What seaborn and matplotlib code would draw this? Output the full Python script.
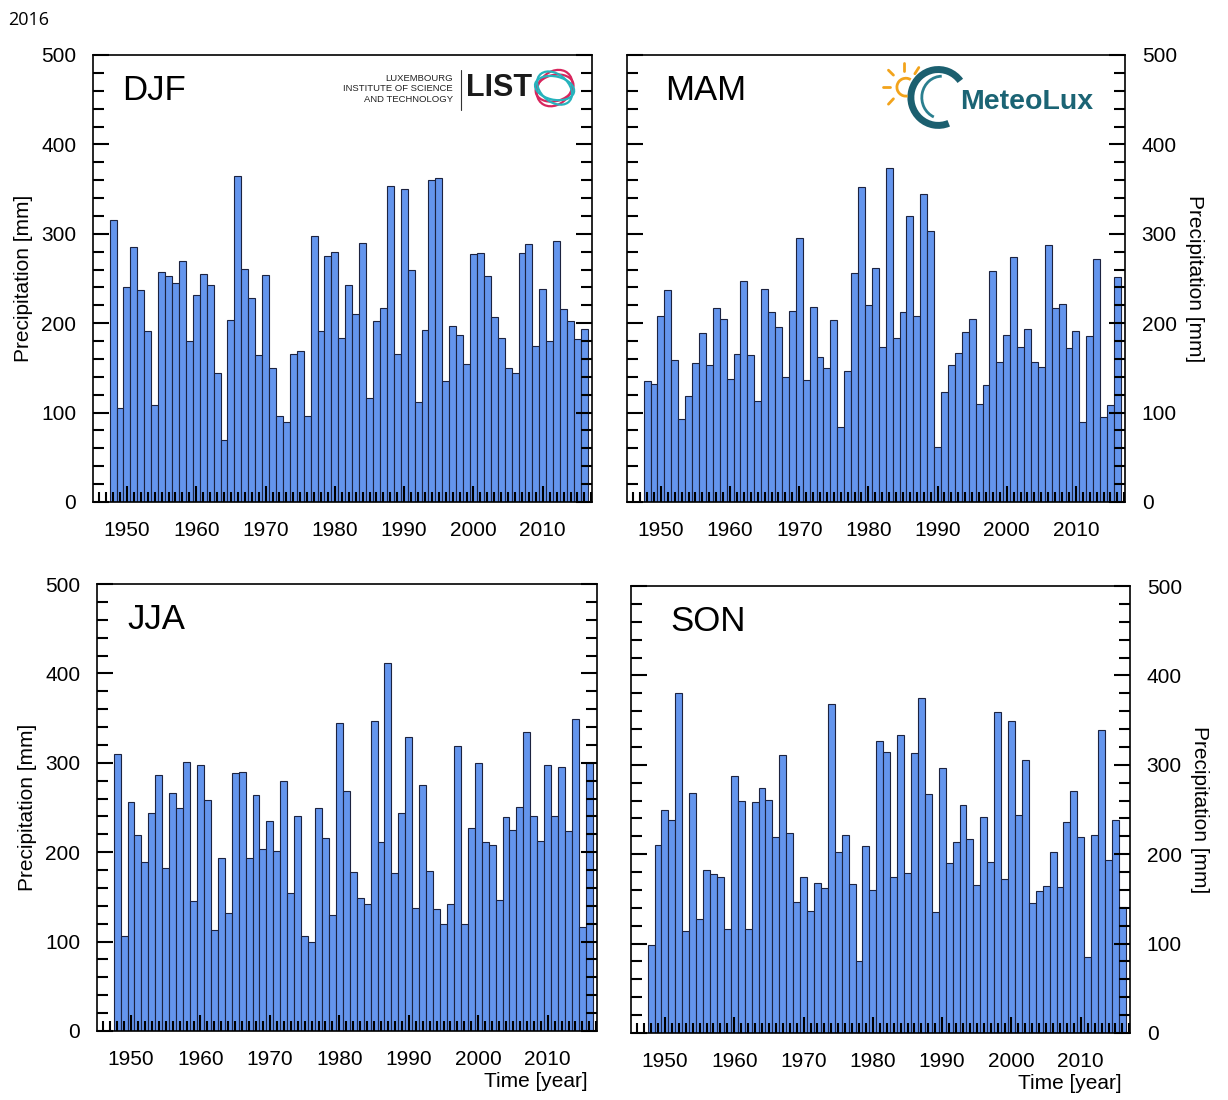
import matplotlib
matplotlib.use("Agg")
import matplotlib.pyplot as plt
from matplotlib.ticker import MultipleLocator
from matplotlib.patches import Ellipse, Arc
import seaborn as sns

years = list(range(1948, 2017))

djf = [315, 105, 240, 285, 237, 191, 109, 257, 253, 245, 270, 180, 232, 255, 243,
       144, 69, 204, 365, 261, 228, 164, 254, 150, 96, 90, 165, 169, 96, 297,
       191, 275, 280, 184, 243, 210, 290, 116, 203, 217, 354, 165, 350, 260, 112,
       192, 360, 362, 135, 197, 187, 154, 277, 278, 253, 207, 184, 150, 144, 279,
       289, 174, 238, 180, 292, 216, 202, 182, 193]

mam = [135, 132, 208, 237, 159, 93, 119, 156, 189, 153, 217, 205, 138, 166, 247,
       164, 113, 238, 212, 196, 140, 214, 295, 137, 218, 162, 150, 204, 84, 146,
       256, 352, 220, 262, 173, 374, 183, 213, 320, 208, 345, 303, 62, 123, 153,
       167, 190, 205, 110, 131, 258, 157, 187, 274, 173, 194, 157, 151, 288, 217,
       222, 172, 191, 89, 186, 272, 95, 109, 252]

jja = [310, 106, 256, 219, 189, 244, 286, 182, 266, 250, 301, 145, 298, 258, 113,
       193, 132, 289, 290, 194, 264, 204, 235, 201, 280, 154, 241, 106, 99, 249,
       216, 130, 345, 269, 178, 149, 142, 347, 211, 412, 177, 244, 329, 138, 275,
       179, 136, 120, 142, 319, 120, 227, 300, 211, 208, 146, 239, 225, 251, 335,
       240, 212, 297, 241, 295, 224, 349, 116, 300]

son = [98, 210, 250, 238, 380, 114, 268, 127, 182, 178, 175, 116, 288, 259, 116,
       258, 274, 261, 219, 311, 224, 146, 175, 137, 168, 162, 368, 202, 222, 167,
       81, 209, 160, 327, 314, 174, 333, 179, 313, 375, 267, 135, 296, 190, 214,
       255, 217, 165, 242, 191, 359, 172, 349, 244, 305, 145, 159, 164, 203, 163,
       236, 271, 219, 85, 221, 339, 194, 238, 141]

seasons = ["DJF", "MAM", "JJA", "SON"]
values = [djf, mam, jja, son]

sns.set_style("ticks")
plt.rcParams['font.family'] = ['Liberation Sans', 'DejaVu Sans']
plt.rcParams['text.color'] = 'black'
plt.rcParams['axes.labelcolor'] = 'black'

fig = plt.figure(figsize=(12.28, 11), dpi=100)

W, H = 1228, 1100
boxes = [(93, 502, 499), (627, 502, 498), (97, 1031, 500), (631, 1033, 499)]
label_x = [0.058, 0.076, 0.06, 0.078]
xlabel_end = [None, None, 0.982, 0.984]

axes = []
for i, (name, vals) in enumerate(zip(seasons, values)):
    left, bottom, width = boxes[i]
    ax = fig.add_axes([left / W, 1 - bottom / H, width / W, 447 / H])
    sns.barplot(x=years, y=vals, native_scale=True, width=1, color="#6495ED",
                saturation=1, edgecolor="#1c2340", linewidth=0.8,
                errorbar=None, ax=ax)
    ax.set_axisbelow(False)
    ax.set_xlim(1945.1, 2017.1)
    ax.set_ylim(0, 500)
    ax.xaxis.set_major_locator(MultipleLocator(10))
    ax.xaxis.set_minor_locator(MultipleLocator(1))
    ax.yaxis.set_major_locator(MultipleLocator(100))
    ax.yaxis.set_minor_locator(MultipleLocator(20))

    right_side = i % 2 == 1
    ax.tick_params(axis='both', which='both', direction='in', colors='black',
                   width=1.5, labelsize=15)
    ax.tick_params(axis='x', which='major', length=11.5, pad=14)
    ax.tick_params(axis='x', which='minor', length=7)
    ax.tick_params(axis='y', which='major', length=11.5, pad=12,
                   left=True, right=True,
                   labelleft=not right_side, labelright=right_side)
    ax.tick_params(axis='y', which='minor', length=8, left=True, right=True)
    ax.tick_params(axis='x', which='both', top=False)
    for sp in ax.spines.values():
        sp.set_visible(True)
        sp.set_linewidth(1.2)
        sp.set_color('black')

    if right_side:
        ax.yaxis.set_label_position('right')
        ax.set_ylabel("Precipitation [mm]", fontsize=15, rotation=270,
                      va='bottom', labelpad=6)
    else:
        ax.set_ylabel("Precipitation [mm]", fontsize=15, labelpad=6)

    if i >= 2:
        ax.set_xlabel("Time [year]", fontsize=15, loc='right', labelpad=2)
        ax.xaxis.label.set_x(xlabel_end[i])
    else:
        ax.set_xlabel("")

    ax.text(label_x[i], 0.92, name, transform=ax.transAxes, fontsize=25,
            ha='left', va='center')
    axes.append(ax)

# LIST logo (DJF panel)
ax = axes[0]
ax.text(0.721, 0.924, "LUXEMBOURG\nINSTITUTE OF SCIENCE\nAND TECHNOLOGY",
        transform=ax.transAxes, ha='right', va='center', ma='right',
        fontsize=6.8, linespacing=1.2, color='#222222')
ax.plot([0.737, 0.737], [0.877, 0.966], transform=ax.transAxes,
        color='#333333', lw=0.8)
ax.text(0.748, 0.926, "LIST", transform=ax.transAxes, ha='left', va='center',
        fontsize=22, fontweight='bold', color='#1a1a1a')
cx, cy = 0.925, 0.926
for w, h, ang, col in [(0.078, 0.058, 20, '#d8265d'), (0.066, 0.086, -30, '#d8265d'),
                       (0.080, 0.052, -15, '#26b3bd'), (0.058, 0.084, 40, '#26b3bd')]:
    ax.add_patch(Ellipse((cx, cy), w, h, angle=ang, fill=False, ec=col, lw=1.6,
                         transform=ax.transAxes))

# MeteoLux logo (MAM panel)
ax = axes[1]
ax.add_patch(Arc((0.625, 0.905), 0.11, 0.125, theta1=40, theta2=290,
                 color='#1b5f6f', lw=5, transform=ax.transAxes))
ax.add_patch(Arc((0.632, 0.905), 0.08, 0.095, theta1=90, theta2=250,
                 color='#2a7f8f', lw=2, transform=ax.transAxes))
ax.add_patch(Arc((0.56, 0.928), 0.036, 0.040, theta1=60, theta2=280,
                 color='#f2a31b', lw=2, transform=ax.transAxes))
for (x0, y0, x1, y1) in [(0.528, 0.928, 0.515, 0.928), (0.535, 0.955, 0.525, 0.966),
                         (0.557, 0.965, 0.557, 0.982), (0.535, 0.902, 0.525, 0.89),
                         (0.578, 0.958, 0.586, 0.972)]:
    ax.plot([x0, x1], [y0, y1], transform=ax.transAxes, color='#f2a31b', lw=2)
ax.text(0.669, 0.895, "MeteoLux", transform=ax.transAxes, ha='left', va='center',
        fontsize=20.5, fontweight='bold', color='#1b6474')

fig.text(0.0065, 0.982, "2016", fontsize=13, ha='left', va='center',
         family=['Open Sans', 'DejaVu Sans'])

plt.savefig("out.png", dpi=100)
plt.close()
